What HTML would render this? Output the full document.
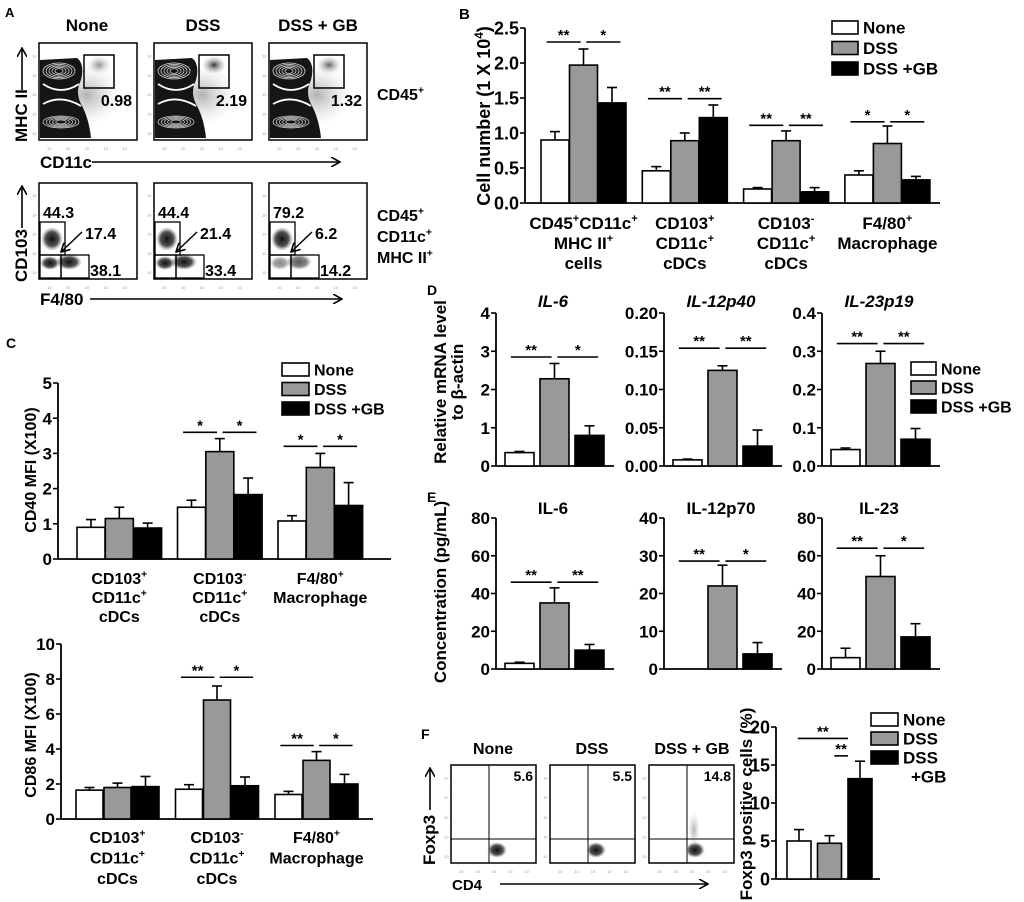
<!DOCTYPE html>
<html><head><meta charset="utf-8"><style>
html,body{margin:0;padding:0;background:#fff;}
svg{display:block;font-family:"Liberation Sans",Arial,sans-serif;font-weight:bold;}
</style></head><body>
<svg id="fig" xmlns="http://www.w3.org/2000/svg" width="1024" height="902" viewBox="0 0 1024 902">
<defs>
<radialGradient id="blob" cx="50%" cy="50%" r="50%"><stop offset="0" stop-color="#111"/><stop offset="0.6" stop-color="#333" stop-opacity="0.85"/><stop offset="1" stop-color="#888" stop-opacity="0"/></radialGradient>
<radialGradient id="dot" cx="50%" cy="50%" r="50%"><stop offset="0" stop-color="#222"/><stop offset="1" stop-color="#999" stop-opacity="0"/></radialGradient>
<marker id="arr" markerWidth="10" markerHeight="10" refX="9" refY="5" orient="auto" markerUnits="userSpaceOnUse"><path d="M0,0 L9,5 L0,10" fill="none" stroke="#000" stroke-width="1.6"/></marker>
</defs>
<g id="static"></g>
<g id="charts"></g>
</svg>
<script>
// ===== Panel B data =====
const B_categories=["CD45^+CD11c^+|MHC II^+|cells","CD103^+|CD11c^+|cDCs","CD103^-|CD11c^+|cDCs","F4/80^+|Macrophage"];
const B_none=[0.9,0.46,0.2,0.4];
const B_noneErr=[0.12,0.06,0.02,0.06];
const B_dss=[1.97,0.89,0.89,0.85];
const B_dssErr=[0.23,0.11,0.14,0.25];
const B_gb=[1.43,1.22,0.16,0.33];
const B_gbErr=[0.22,0.18,0.06,0.05];
const B_tickVals=[0,0.5,1,1.5,2,2.5];
const B_tickLabels=["0.0","0.5","1.0","1.5","2.0","2.5"];
// ===== Panel C (CD40) =====
const C1_categories=["CD103^+|CD11c^+|cDCs","CD103^-|CD11c^+|cDCs","F4/80^+|Macrophage"];
const C1_none=[0.9,1.47,1.08];
const C1_noneErr=[0.22,0.2,0.15];
const C1_dss=[1.15,3.05,2.6];
const C1_dssErr=[0.32,0.37,0.4];
const C1_gb=[0.88,1.83,1.52];
const C1_gbErr=[0.14,0.47,0.65];
const C1_tickVals=[0,1,2,3,4,5];
const C1_tickLabels=["0","1","2","3","4","5"];
// ===== Panel C (CD86) =====
const C2_none=[1.65,1.7,1.4];
const C2_noneErr=[0.15,0.26,0.18];
const C2_dss=[1.8,6.8,3.35];
const C2_dssErr=[0.25,0.8,0.5];
const C2_gb=[1.85,1.9,2.0];
const C2_gbErr=[0.58,0.5,0.55];
const C2_tickVals=[0,2,4,6,8,10];
const C2_tickLabels=["0","2","4","6","8","10"];
// ===== Panel D =====
const D_titles=["IL-6","IL-12p40","IL-23p19"];
const D_il6=[0.35,2.28,0.8];
const D_il6Err=[0.03,0.4,0.25];
const D_il12=[0.008,0.125,0.026];
const D_il12Err=[0.001,0.006,0.021];
const D_il23=[0.043,0.268,0.07];
const D_il23Err=[0.004,0.032,0.028];
const D_il6Ticks=[0,1,2,3,4];
const D_il12Ticks=[0,0.05,0.1,0.15,0.2];
const D_il23Ticks=[0,0.1,0.2,0.3,0.4];
const D_il6Labels=["0","1","2","3","4"];
const D_il12Labels=["0.00","0.05","0.10","0.15","0.20"];
const D_il23Labels=["0.0","0.1","0.2","0.3","0.4"];
// ===== Panel E =====
const E_titles=["IL-6","IL-12p70","IL-23"];
const E_il6=[3,35,10];
const E_il6Err=[0.6,8,3];
const E_il12=[0,22,4];
const E_il12Err=[0,5.5,3];
const E_il23=[6,49,17];
const E_il23Err=[5,11,7];
const E_ticks80=[0,20,40,60,80];
const E_ticks40=[0,10,20,30,40];
const E_labels80=["0","20","40","60","80"];
const E_labels40=["0","10","20","30","40"];
// ===== Panel F =====
const F_values=[5,4.7,13.2];
const F_errs=[1.5,1.0,2.3];
const F_tickVals=[0,5,10,15,20];
const F_tickLabels=["0","5","10","15","20"];
const F_flowPct=["5.6","5.5","14.8"];

const NS="http://www.w3.org/2000/svg";
const FILLS=["#ffffff","#999999","#000000"];
function el(tag,attrs,parent){const e=document.createElementNS(NS,tag);for(const k in attrs)e.setAttribute(k,attrs[k]);(parent||document.getElementById('charts')).appendChild(e);return e;}
function richText(parent,str,x,y,size,anchor,name){
  const t=el('text',{x:x,y:y,'font-size':size,'text-anchor':anchor||'middle'},parent);
  
  
  const parts=str.split(/(\^[+\-0-9])/);
  parts.forEach(p=>{if(!p)return;
    if(p[0]==='^'){const s=el('tspan',{'font-size':size*0.65,dy:-size*0.4},t);s.textContent=p[1]==='-'?'-':p.slice(1);const r=el('tspan',{dy:size*0.4},t);r.textContent='\u200b';}
    else{const s=el('tspan',{},t);s.textContent=p;}
  });
  return t;
}
function barChart(c){
  const g=el('g',{});
  
  
  const sy=v=>c.y0-(v/c.max)*(c.y0-c.yTop);
  const ya=el('line',{x1:c.ax,y1:c.yTop,x2:c.ax,y2:c.y0,stroke:'#000','stroke-width':1.8},g);
  
  const xa=el('line',{x1:c.ax,y1:c.y0,x2:c.end,y2:c.y0,stroke:'#000','stroke-width':1.8},g);
  
  c.ticks.forEach((v,i)=>{
    el('line',{x1:c.ax-5,y1:sy(v),x2:c.ax,y2:sy(v),stroke:'#000','stroke-width':1.6},g);
    const t=el('text',{x:c.ax-6,y:sy(v)+c.fs*0.36,'font-size':c.fs,'text-anchor':'end'},g);
    
    
    t.textContent=c.tickLabels[i];
  });
  const nG=c.series[0].length;
  const cx=(gi,si)=>c.gx+gi*c.gstep+si*c.bstep+c.bw/2;
  for(let gi=0;gi<nG;gi++){
    c.series.forEach((vals,si)=>{
      const x=cx(gi,si)-c.bw/2, v=vals[gi], e=c.errs[si][gi];
      if(e>0){
        el('line',{x1:cx(gi,si),y1:sy(v),x2:cx(gi,si),y2:sy(v+e),stroke:'#000','stroke-width':1.6},g);
        el('line',{x1:cx(gi,si)-5,y1:sy(v+e),x2:cx(gi,si)+5,y2:sy(v+e),stroke:'#000','stroke-width':1.6},g);
      }
      const r=el('rect',{x:x,y:sy(v),width:c.bw,height:Math.max(0,c.y0-sy(v)),fill:FILLS[si],stroke:'#000','stroke-width':1.6},g);
      
      
    });
    if(c.cats){
      const lines=c.cats[gi].split('|');
      lines.forEach((ln,li)=>richText(g,ln,c.gx+gi*c.gstep+c.bstep+c.bw/2,c.catY+li*c.catDy,c.catFs,'middle','x-category-label'));
    }
  }
  (c.sig||[]).forEach(s=>{
    const [gi,a,b,yv,lab,o1,o2]=s;
    const x1=cx(gi,a)+o1*c.bw, x2=cx(gi,b)+o2*c.bw, y=sy(yv);
    const l=el('line',{x1:x1,y1:y,x2:x2,y2:y,stroke:'#000','stroke-width':1.6},g);
    
    const t=el('text',{x:(x1+x2)/2,y:y-2,'font-size':15,'text-anchor':'middle'},g);
    
    
    t.textContent=lab;
  });
  return g;
}
function legend(x,y,dy,w,h,labels,fs){
  const g=el('g',{});
  
  
  labels.forEach((lb,i)=>{
    el('rect',{x:x,y:y+i*dy,width:w,height:h,fill:FILLS[i],stroke:'#000','stroke-width':1.6},g);
    lb.split('|').forEach((p,k)=>{
      const t=el('text',{x:x+w+5+(k?8:0),y:y+i*dy+h-0.5+k*dy,'font-size':fs},g);
      
      
      t.textContent=p;
    });
  });
}
function ytitle(x,y,str,fs,name){
  const g=el('g',{transform:`translate(${x},${y}) rotate(-90)`});
  
  
  richText(g,str,0,0,fs,'middle',name);
}
function plainText(x,y,str,fs,anchor,name,italic){
  const t=el('text',{x:x,y:y,'font-size':fs,'text-anchor':anchor||'middle'});
  if(italic)t.setAttribute('font-style','italic');
  
  
  t.textContent=str;return t;
}
// ---- Panel B
barChart({name:'panel-b-chart',ax:525,y0:203,yTop:28,max:2.5,ticks:B_tickVals,tickLabels:B_tickLabels,fs:18,
  gx:541,gstep:101.3,bw:28,bstep:28.5,end:940,series:[B_none,B_dss,B_gb],errs:[B_noneErr,B_dssErr,B_gbErr],
  cats:B_categories,catY:229,catDy:20,catFs:17,
  sig:[[0,0,1,2.3,'**',-0.3,-0.1],[0,1,2,2.3,'*',0.1,0.3],[1,0,1,1.49,'**',-0.3,-0.1],[1,1,2,1.49,'**',0.1,0.3],
       [2,0,1,1.11,'**',-0.3,-0.1],[2,1,2,1.11,'**',0.1,0.3],[3,0,1,1.16,'*',-0.3,-0.1],[3,1,2,1.16,'*',0.1,0.3]]});
ytitle(490,116,'Cell number (1 X 10^4)',18,'panel-b-y-axis-title');
legend(832,21,20.5,26,13,['None','DSS','DSS +GB'],17);
// ---- Panel C top
barChart({name:'panel-c-cd40-chart',ax:58,y0:559,yTop:383,max:5,ticks:C1_tickVals,tickLabels:C1_tickLabels,fs:17,
  gx:77,gstep:100.5,bw:28,bstep:28.3,end:391,series:[C1_none,C1_dss,C1_gb],errs:[C1_noneErr,C1_dssErr,C1_gbErr],
  cats:C1_categories,catY:584,catDy:19,catFs:16,
  sig:[[1,0,1,3.6,'*',-0.3,-0.1],[1,1,2,3.6,'*',0.1,0.3],[2,0,1,3.2,'*',-0.3,-0.1],[2,1,2,3.2,'*',0.1,0.3]]});
ytitle(36,470,'CD40 MFI (X100)',16,'panel-c-cd40-y-axis-title');
legend(282,363,19.5,27,13,['None','DSS','DSS +GB'],16);
// ---- Panel C bottom
barChart({name:'panel-c-cd86-chart',ax:61,y0:819,yTop:644,max:10,ticks:C2_tickVals,tickLabels:C2_tickLabels,fs:17,
  gx:76,gstep:99.5,bw:27,bstep:28,end:373,series:[C2_none,C2_dss,C2_gb],errs:[C2_noneErr,C2_dssErr,C2_gbErr],
  cats:C1_categories,catY:843,catDy:20.5,catFs:16,
  sig:[[1,0,1,8.1,'**',-0.3,-0.1],[1,1,2,8.1,'*',0.1,0.3],[2,0,1,4.2,'**',-0.3,-0.1],[2,1,2,4.2,'*',0.1,0.3]]});
ytitle(36,735,'CD86 MFI (X100)',16,'panel-c-cd86-y-axis-title');
// ---- Panel D
const dCfg=[[496,D_il6,D_il6Err,4,D_il6Ticks,D_il6Labels,[2.85,'**','*']],[664,D_il12,D_il12Err,0.2,D_il12Ticks,D_il12Labels,[0.154,'**','**']],[822,D_il23,D_il23Err,0.4,D_il23Ticks,D_il23Labels,[0.32,'**','**']]];
dCfg.forEach((d,i)=>{
  barChart({name:'panel-d-chart-'+(i+1),ax:d[0],y0:466,yTop:313,max:d[3],ticks:d[4],tickLabels:d[5],fs:17,
    gx:d[0]+9,gstep:0,bw:29,bstep:35,end:d[0]+118,series:[[d[1][0]],[d[1][1]],[d[1][2]]],errs:[[d[2][0]],[d[2][1]],[d[2][2]]],
    sig:[[0,0,1,d[6][0],d[6][1],-0.3,-0.1],[0,1,2,d[6][0],d[6][2],0.1,0.3]]});
  plainText(d[0]+57,307,D_titles[i],17,'middle','panel-d-title',true);
});
ytitle(446,382,'Relative mRNA level',17,'panel-d-y-axis-title');
ytitle(463,382,'to β-actin',17,'panel-d-y-axis-title-2');
legend(911,362,19,25,13,['None','DSS','DSS +GB'],16);
// ---- Panel E
const eCfg=[[496,E_il6,E_il6Err,80,E_ticks80,E_labels80,[46,'**','**']],[664,E_il12,E_il12Err,40,E_ticks40,E_labels40,[28.6,'**','*']],[822,E_il23,E_il23Err,80,E_ticks80,E_labels80,[64,'**','*']]];
eCfg.forEach((d,i)=>{
  barChart({name:'panel-e-chart-'+(i+1),ax:d[0],y0:669,yTop:518,max:d[3],ticks:d[4],tickLabels:d[5],fs:17,
    gx:d[0]+9,gstep:0,bw:29,bstep:35,end:d[0]+118,series:[[d[1][0]],[d[1][1]],[d[1][2]]],errs:[[d[2][0]],[d[2][1]],[d[2][2]]],
    sig:[[0,0,1,d[6][0],d[6][1],-0.3,-0.1],[0,1,2,d[6][0],d[6][2],0.1,0.3]]});
  plainText(d[0]+57,514,E_titles[i],17,'middle','panel-e-title');
});
ytitle(446,592,'Concentration (pg/mL)',17,'panel-e-y-axis-title');
// ---- Panel F bar
barChart({name:'panel-f-chart',ax:776,y0:879,yTop:727,max:20,ticks:F_tickVals,tickLabels:F_tickLabels,fs:18,
  gx:787,gstep:0,bw:24,bstep:30.5,end:880,series:[[F_values[0]],[F_values[1]],[F_values[2]]],errs:[[F_errs[0]],[F_errs[1]],[F_errs[2]]],
  sig:[[0,0,2,18.5,'**',-0.05,-0.5],[0,1,2,16.2,'**',0.2,-0.5]]});
ytitle(752,804,'Foxp3 positive cells (%)',17,'panel-f-y-axis-title');
legend(871,713,19,27,13,['None','DSS','DSS|+GB'],17);

// ===== Static flow plots =====
const S=document.getElementById('static');
function flowBox(x,y,w,h,name){
  const g=el('g',{},S);
  
  
  el('rect',{x:x,y:y,width:w,height:h,fill:'#fff',stroke:'#000','stroke-width':1.5},g);
  for(let k=0;k<5;k++){el('text',{x:x-7,y:y+h-5-k*h/5,'font-size':4,fill:'#999','font-weight':'normal'},g).textContent='10';
    el('text',{x:x+8+k*w/5.2,y:y+h+10,'font-size':4,fill:'#999','font-weight':'normal'},g).textContent='10';}
  return g;
}
const colsA=[39,154,269];
const topNums=["0.98","2.19","1.32"];
const dcDark=[0.5,0.9,0.7];
colsA.forEach((x,i)=>{
  const g=flowBox(x,43,98,97,'panel-a-mhc-plot-'+(i+1));
  el('ellipse',{cx:x+48,cy:95,rx:34,ry:30,fill:'url(#dot)',opacity:0.35},g);
  el('path',{d:`M${x+1},60 L${x+38},58 Q${x+46},64 ${x+42},80 Q${x+36},92 ${x+42},104 Q${x+50},118 ${x+52},138 L${x+1},138 Z`,fill:'#151515'},g);
  for(let r=0;r<5;r++){el('ellipse',{cx:x+20,cy:71,rx:16-r*3,ry:8-r*1.4,fill:'none',stroke:'#ddd','stroke-width':0.8},g);
    el('ellipse',{cx:x+22,cy:122,rx:18-r*3.2,ry:6-r*1,fill:'none',stroke:'#ccc','stroke-width':0.8},g);}
  el('path',{d:`M${x+4},84 Q${x+22},96 ${x+40},84 M${x+4},104 Q${x+22},94 ${x+42},106`,fill:'none',stroke:'#fff','stroke-width':1.8},g);
  el('ellipse',{cx:x+60,cy:65,rx:12,ry:9,fill:'url(#dot)',opacity:dcDark[i]},g);
  el('rect',{x:x+45,y:55,width:30,height:33,fill:'none',stroke:'#000','stroke-width':1.5},g);
  const t=el('text',{x:x+93,y:106,'font-size':16,'text-anchor':'end'},g);t.textContent=topNums[i];
});
const botNums=[["44.3","17.4","38.1"],["44.4","21.4","33.4"],["79.2","6.2","14.2"]];
colsA.forEach((x,i)=>{
  const g=flowBox(x,183,98,96,'panel-a-cd103-plot-'+(i+1));
  el('ellipse',{cx:x+13,cy:239,rx:11,ry:12,fill:'url(#blob)'},g);
  el('ellipse',{cx:x+11,cy:263,rx:10,ry:7,fill:'url(#blob)',opacity:i==2?0.5:1},g);
  el('ellipse',{cx:x+30,cy:262,rx:13,ry:8,fill:'url(#blob)',opacity:i==2?0.7:1},g);
  el('rect',{x:x+1,y:222,width:25,height:33,fill:'none',stroke:'#000','stroke-width':1.3},g);
  el('rect',{x:x+1,y:255,width:21,height:23,fill:'none',stroke:'#000','stroke-width':1.3},g);
  el('rect',{x:x+22,y:255,width:28,height:23,fill:'none',stroke:'#000','stroke-width':1.3},g);
  el('line',{x1:x+43,y1:232,x2:x+22,y2:252,stroke:'#000','stroke-width':1.5,'marker-end':'url(#arr)'},g);
  [[x+4,218,'start',0],[x+46,239,'start',1],[x+51,276,'start',2]].forEach(p=>{
    const t=el('text',{x:p[0],y:p[1],'font-size':16,'text-anchor':p[2]},g);t.textContent=botNums[i][p[3]];});
});
// F flow
const colsF=[451,550,649];
colsF.forEach((x,i)=>{
  const g=flowBox(x,765,85,98,'panel-f-foxp3-plot-'+(i+1));
  el('line',{x1:x+38,y1:765,x2:x+38,y2:863,stroke:'#000','stroke-width':1},g);
  el('line',{x1:x,y1:839,x2:x+85,y2:839,stroke:'#000','stroke-width':1},g);
  el('ellipse',{cx:x+46,cy:850,rx:10,ry:8,fill:'url(#blob)'},g);
  if(i==2)el('ellipse',{cx:x+45,cy:830,rx:6,ry:18,fill:'url(#dot)',opacity:0.35},g);
  const t=el('text',{x:x+82,y:781,'font-size':14,'text-anchor':'end'},g);t.textContent=F_flowPct[i];
});
function st(x,y,s,fs,anchor,name){const t=el('text',{x:x,y:y,'font-size':fs,'text-anchor':anchor||'middle'},S);t.textContent=s;return t;}
st(5,17,'A',13,'start','panel-a-label');st(459,19,'B',15,'start','panel-b-label');st(6,348,'C',14,'start','panel-c-label');
st(427,295,'D',14,'start','panel-d-label');st(427,502,'E',14,'start','panel-e-label');st(421,739,'F',14,'start','panel-f-label');
st(87,31,'None',17,'middle','col-title-none');st(203,31,'DSS',17,'middle','col-title-dss');st(318,31,'DSS + GB',17,'middle','col-title-dss-gb');
st(493,754,'None',16,'middle','f-col-title-none');st(592,754,'DSS',16,'middle','f-col-title-dss');st(692,754,'DSS + GB',16,'middle','f-col-title-dss-gb');
richText(S,'CD45^+',377,100,16,'start','row-label-cd45');
richText(S,'CD45^+',377,221,16,'start','row-label-2');richText(S,'CD11c^+',377,242,16,'start','row-label-3');richText(S,'MHC II^+',377,263,16,'start','row-label-4');
st(40,168,'CD11c',17,'start','x-axis-title-cd11c');st(40,305,'F4/80',17,'start','x-axis-title-f4-80');st(452,890,'CD4',15,'start','x-axis-title-cd4');
function vt(x,y,s,name){const g=el('g',{transform:`translate(${x},${y}) rotate(-90)`},S);const t=el('text',{x:0,y:0,'font-size':17,'text-anchor':'start'},g);t.textContent=s;}
vt(27,142,'MHC II','y-axis-title-mhc');vt(27,282,'CD103','y-axis-title-cd103');vt(435,865,'Foxp3','y-axis-title-foxp3');
[[92,162,340,162],[90,299,342,299],[500,884,708,884],[22,90,22,48],[22,228,22,186],[430,810,430,768]].forEach(a=>{
  const l=el('line',{x1:a[0],y1:a[1],x2:a[2],y2:a[3],stroke:'#000','stroke-width':1.6,'marker-end':'url(#arr)'},S);
  });
</script>
</body></html>
